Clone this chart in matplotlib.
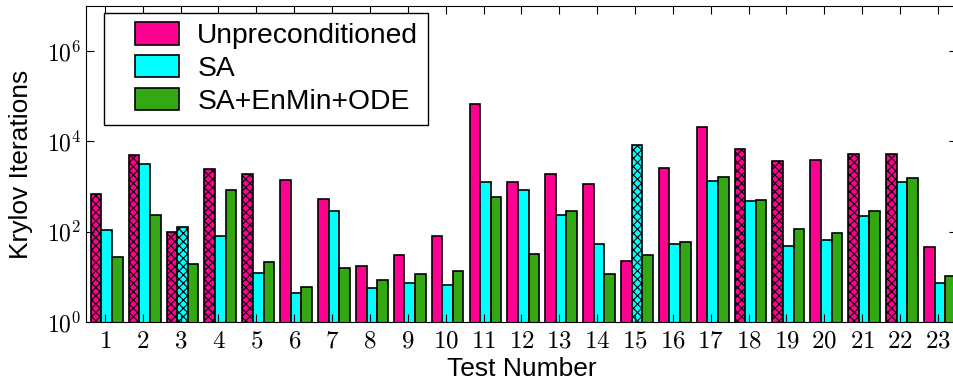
import matplotlib
matplotlib.use("Agg")
import matplotlib.pyplot as plt
from matplotlib.patches import Patch, Rectangle
from matplotlib.legend_handler import HandlerPatch
import numpy as np

# Krylov iteration counts per test
tests = list(range(1, 24))
unprec = [680, 4930, 101, 2470, 1910, 1435, 526, 17, 30, 80, 66500, 1250,
          1950, 1150, 23, 2600, 20600, 6820, 3780, 3840, 5380, 5380, 46]
sa = [109, 3180, 128, 81, 12, 4.3, 281, 5.7, 7.3, 6.7, 1270, 861,
      233, 54, 8340, 54, 1340, 483, 48, 66, 225, 1250, 7.4]
sa_enmin = [28, 230, 19, 861, 21.6, 5.9, 15.4, 8.6, 11.7, 13.2, 590, 32,
            281, 11.5, 31, 58, 1640, 500, 116, 92, 281, 1550, 10.2]
# hatched bars (did not converge)
unprec_hatched = [1, 2, 3, 4, 5, 18, 19, 21, 22]
sa_hatched = [3, 15]

series = [("Unpreconditioned", unprec, "#ff0090", unprec_hatched),
          ("SA", sa, "#00ffff", sa_hatched),
          ("SA+EnMin+ODE", sa_enmin, "#33a812", [])]

plt.rcParams['mathtext.fontset'] = 'cm'
plt.rcParams['hatch.linewidth'] = 0.8
plt.rcParams['font.family'] = ['Liberation Sans', 'DejaVu Sans']

fig = plt.figure(figsize=(9.54, 3.81), dpi=100)
ax = fig.add_axes([0.0901, 0.1549, 0.9129, 0.829])

x = np.array(tests, dtype=float)
w = 0.28
handles = []
for k, (name, vals, col, hatched) in enumerate(series):
    bars = ax.bar(x - 0.37 + k * w, vals, width=w, align='edge', color=col,
                  edgecolor='black', linewidth=1.2)
    for t, b in zip(tests, bars):
        if t in hatched:
            b.set_hatch('xxxx')
    handles.append(Patch(facecolor=col, edgecolor='black', linewidth=1.2, label=name))

ax.set_yscale('log')
ax.set_ylim(1, 1e7)
ax.set_xlim(0.5, 23.5)
ax.set_yticks([1, 1e2, 1e4, 1e6])
ax.set_yticklabels([r'$10^{0}$', r'$10^{2}$', r'$10^{4}$', r'$10^{6}$'])
ax.set_xticks(tests)
ax.set_xticklabels([r'$%d$' % t for t in tests])
ax.tick_params(axis='both', which='both', direction='in', top=True, right=True)
ax.tick_params(axis='both', which='major', labelsize=17, length=6)
ax.tick_params(axis='x', which='major', labelsize=18, pad=5)
ax.tick_params(axis='y', which='minor', length=3)

ax.set_xlabel('Test Number', fontsize=19, labelpad=3)
ax.set_ylabel('Krylov Iterations', fontsize=19, labelpad=10)


def right_box(legend, orig_handle, xdescent, ydescent, width, height, fontsize):
    # swatch sits at the right end of the handle slot
    sw = width * 0.68
    return Rectangle((-xdescent + width - sw, -ydescent - 1), sw, height + 2)


leg = ax.legend(handles=handles, loc='upper left', bbox_to_anchor=(0.0207, 0.978),
                fontsize=20.3, fancybox=False, edgecolor='black', framealpha=1,
                handlelength=2.3, handleheight=0.7, labelspacing=0.24,
                borderpad=0.36, handletextpad=0.65, borderaxespad=0.0,
                handler_map={Patch: HandlerPatch(patch_func=right_box)})
leg.get_frame().set_linewidth(1.0)

fig.savefig('out.png', dpi=100)
